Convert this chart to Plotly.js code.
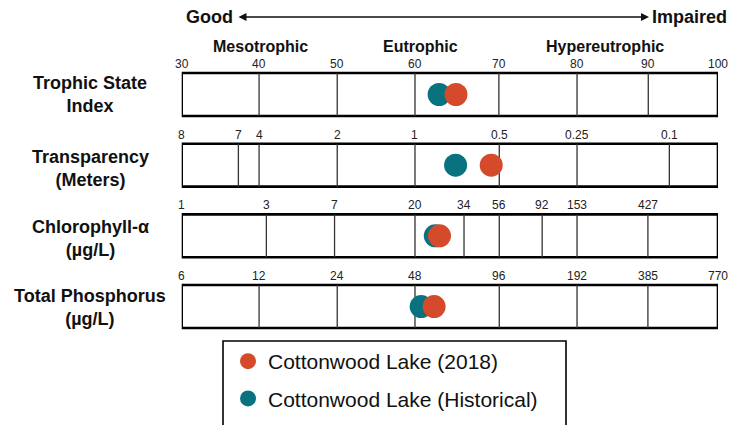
<!DOCTYPE html>
<html>
<head>
<meta charset="utf-8">
<script src="https://cdn.plot.ly/plotly-3.0.1.min.js"></script>
<style>html,body{margin:0;padding:0;background:#fff;}#chart{width:744px;height:425px;}</style>
</head>
<body>
<div id="chart"></div>
<script>
// ---- Data (positions on the shared Trophic State Index scale) ----
const rowNames = ["Trophic State<br>Index", "Transparency<br>(Meters)", "Chlorophyll-α<br>(µg/L)", "Total Phosphorus<br>(µg/L)"];
const tsiLabels = ["30","40","50","60","70","80","90","100"];
const tsiPos    = [30, 40.1, 50.3, 60.45, 71.4, 81.6, 90.9, 100];
const sdLabels  = ["8","7","4","2","1","0.5","0.25","0.1"];
const sdPos     = [30, 37.4, 40.1, 50.3, 60.45, 71.45, 81.6, 93.65];
const chlLabels = ["1","3","7","20","34","56","92","153","427"];
const chlPos    = [30, 41.05, 49.95, 60.45, 66.85, 71.45, 77.05, 81.6, 90.85];
const tpLabels  = ["6","12","24","48","96","192","385","770"];
const tpPos     = [30, 40.1, 50.3, 60.45, 71.45, 81.6, 90.85, 100];
const classNames = ["Mesotrophic", "Eutrophic", "Hypereutrophic"];
const seriesNames = ["Cottonwood Lake (2018)", "Cottonwood Lake (Historical)"];
const values2018       = [65.8, 70.4, 63.65, 62.95];
const valuesHistorical = [63.6, 65.75, 63.1, 61.25];

// ---- Styling / layout helpers ----
const FONT = "Arial, 'Liberation Sans', sans-serif";
const W = 744, H = 425;
const rowCenter0 = 94.5, rowStep = 70.67, halfH = 0.304;
const yTop = -rowCenter0 / rowStep, yBot = (H - rowCenter0) / rowStep;
const xMin = 30, xMax = 100;
const py = p => 1 - p / H;   // pixel -> paper y
const px = p => p / W;       // pixel -> paper x

const rows = [
  {labels: tsiLabels, pos: tsiPos, shift: 0},
  {labels: sdLabels, pos: sdPos, shift: -3},
  {labels: chlLabels, pos: chlPos, shift: -3},
  {labels: tpLabels, pos: tpPos, shift: -1}
];
const rowIdx = rows.map((r, i) => i);

const shapes = [];
const annotations = [];
rows.forEach((r, i) => {
  shapes.push({type: 'rect', xref: 'x', yref: 'y', x0: xMin, x1: xMax, y0: i - halfH, y1: i + halfH,
    line: {color: '#000', width: 2.6}, fillcolor: 'rgba(0,0,0,0)', layer: 'below'});
  r.pos.forEach((p, k) => {
    if (p > xMin && p < xMax) {
      shapes.push({type: 'line', xref: 'x', yref: 'y', x0: p, x1: p, y0: i - halfH, y1: i + halfH,
        line: {color: '#333', width: 1.3}, layer: 'below'});
    }
    annotations.push({xref: 'x', yref: 'y', x: p, y: i - halfH, yanchor: 'bottom', xanchor: 'center',
      yshift: 0, text: r.labels[k], showarrow: false, font: {family: FONT, size: 12, color: '#222'}});
  });
  annotations.push({xref: 'paper', yref: 'y', x: px(90), y: i, yshift: r.shift, xanchor: 'center', yanchor: 'middle',
    text: '<b>' + rowNames[i] + '</b>', showarrow: false, align: 'center',
    font: {family: FONT, size: 18, color: '#111'}});
});

// class headers
const classX = [260, 420, 605];
classNames.forEach((c, k) => {
  annotations.push({xref: 'paper', yref: 'paper', x: px(classX[k]), y: py(46), xanchor: 'center', yanchor: 'middle',
    text: '<b>' + c + '</b>', showarrow: false, font: {family: FONT, size: 16, color: '#111'}});
});
// Good <-> Impaired
annotations.push({xref: 'paper', yref: 'paper', x: px(235), y: py(17), xanchor: 'right', yanchor: 'middle',
  text: '<b>Good</b>', showarrow: false, font: {family: FONT, size: 18, color: '#111'}});
annotations.push({xref: 'paper', yref: 'paper', x: px(650), y: py(17), xanchor: 'left', yanchor: 'middle',
  text: '<b>Impaired</b>', showarrow: false, font: {family: FONT, size: 18, color: '#111'}});
annotations.push({xref: 'paper', yref: 'paper', x: px(649), y: py(17), ax: -412, ay: 0, text: '',
  showarrow: true, arrowside: 'end+start', arrowhead: 2, arrowsize: 1, arrowwidth: 1.6, arrowcolor: '#111',
  standoff: 0, startstandoff: 0});

// legend border
shapes.push({type: 'rect', xref: 'paper', yref: 'paper', x0: px(223), x1: px(566), y0: py(341), y1: py(440),
  line: {color: '#000', width: 1.6}, fillcolor: 'rgba(0,0,0,0)'});

const traces = [
  {type: 'scatter', mode: 'markers', name: seriesNames[1], x: valuesHistorical, y: rowIdx,
    marker: {color: '#08737F', size: 23}, legendgroup: 'b', legendrank: 2, hoverinfo: 'skip'},
  {type: 'scatter', mode: 'markers', name: seriesNames[0], x: values2018, y: rowIdx,
    marker: {color: '#D54A2A', size: 23}, legendgroup: 'a', legendrank: 1, hoverinfo: 'skip'}
];

const layout = {
  width: W, height: H,
  margin: {l: 0, r: 0, t: 0, b: 0},
  paper_bgcolor: '#fff', plot_bgcolor: '#fff',
  font: {family: FONT},
  xaxis: {domain: [px(181.7), px(718)], range: [xMin, xMax], visible: false, fixedrange: true},
  yaxis: {domain: [0, 1], range: [yBot, yTop], visible: false, fixedrange: true},
  showlegend: true,
  legend: {x: px(228), y: py(341), xanchor: 'left', yanchor: 'top', traceorder: 'grouped',
    tracegroupgap: 7, font: {family: FONT, size: 21, color: '#111'}, bgcolor: 'rgba(0,0,0,0)', borderwidth: 0},
  shapes: shapes,
  annotations: annotations
};

Plotly.newPlot('chart', traces, layout, {displayModeBar: false, staticPlot: true});
</script>
</body>
</html>
